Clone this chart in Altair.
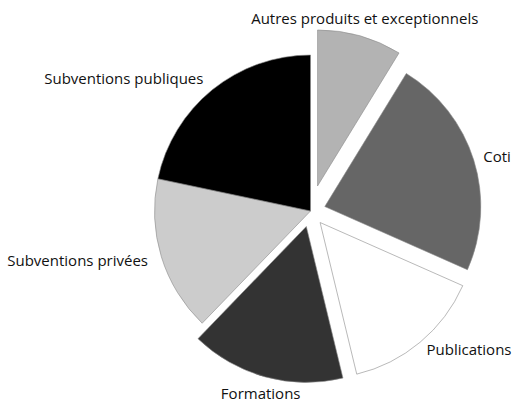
import altair as alt
import pandas as pd

# Data (shares in %)
categories = [
    "Autres produits et exceptionnels",
    "Coti",
    "Publications",
    "Formations",
    "Subventions privées",
    "Subventions publiques",
]
values = [8.75, 22.9, 14.6, 16.0, 16.1, 21.7]

# Styling
colors = ["#b3b3b3", "#666666", "#ffffff", "#333333", "#cccccc", "#000000"]
explode = {
    "Autres produits et exceptionnels": 26,
    "Coti": 15,
    "Publications": 15,
    "Formations": 16,
}
W, H = 514, 402
CX, CY, R = 310.5, 211, 156
FONT = "Open Sans"
FS = 15

df = pd.DataFrame({
    "cat": categories,
    "value": values,
    "order": list(range(len(categories))),
    "off": [explode.get(c, 0) for c in categories],
})

base = (
    alt.Chart(df)
    .transform_window(cum="sum(value)", sort=[alt.SortField("order")], frame=[None, 0])
    .transform_joinaggregate(total="sum(value)")
    .transform_calculate(
        t0="2*PI*(datum.cum - datum.value)/datum.total",
        t1="2*PI*datum.cum/datum.total",
    )
    .transform_calculate(mid="(datum.t0 + datum.t1)/2")
    .transform_calculate(
        cx=f"{CX} + datum.off*sin(datum.mid)",
        cy=f"{CY} - datum.off*cos(datum.mid)",
    )
)

arcs = base.mark_arc(outerRadius=R, stroke="#8a8a8a", strokeWidth=0.6).encode(
    x=alt.X("cx:Q", scale=None, axis=None),
    y=alt.Y("cy:Q", scale=None, axis=None),
    theta=alt.Theta("t0:Q", scale=None, stack=False),
    theta2="t1:Q",
    color=alt.Color("cat:N", scale=alt.Scale(domain=categories, range=colors), legend=None),
    order=alt.Order("order:Q"),
)

tb = (
    base.transform_calculate(
        s="sin(datum.mid)",
        gap="abs(sin(datum.mid)) < 0.5 ? 18 : (sin(datum.mid) > 0 ? 10 : 14)",
    )
    .transform_calculate(
        lx=f"datum.cx + ({R} + datum.gap)*sin(datum.mid)",
        ly=f"datum.cy - ({R} + datum.gap)*cos(datum.mid)",
    )
)

def label_layer(cond, align):
    return tb.transform_filter(cond).mark_text(
        align=align, baseline="middle", font=FONT, fontSize=FS, color="#111111"
    ).encode(
        x=alt.X("lx:Q", scale=None, axis=None),
        y=alt.Y("ly:Q", scale=None, axis=None),
        text="cat:N",
    )

labels_left = label_layer("datum.s >= 0.5", "left")
labels_right = label_layer("datum.s <= -0.5", "right")
labels_center = label_layer("abs(datum.s) < 0.5", "center")

chart = (
    alt.layer(arcs, labels_left, labels_right, labels_center)
    .properties(width=W, height=H, padding=0, autosize=alt.AutoSizeParams(type="none"))
    .configure_view(stroke=None)
)

chart.save("out.html", embed_options={"renderer": "svg", "actions": False})
